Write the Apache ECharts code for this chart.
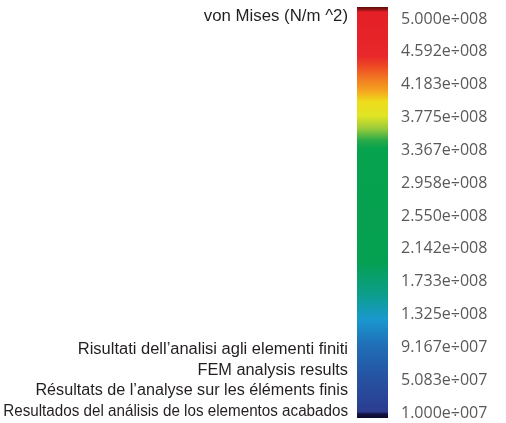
<!DOCTYPE html>
<html>
<head>
<meta charset="utf-8">
<script src="https://cdn.jsdelivr.net/npm/echarts@6/dist/echarts.min.js"></script>
<style>
  html, body { margin: 0; padding: 0; background: #fff; }
  #chart { width: 506px; height: 423px; }
</style>
</head>
<body>
<div id="chart"></div>
<script>
// colour scale values (N/m^2)
const tickValues = [1.000e7, 5.083e7, 9.167e7, 1.325e8, 1.733e8, 2.142e8, 2.550e8,
                    2.958e8, 3.367e8, 3.775e8, 4.183e8, 4.592e8, 5.000e8];
const tickLabels = ['1.000e÷007', '5.083e÷007', '9.167e÷007', '1.325e÷008', '1.733e÷008',
                    '2.142e÷008', '2.550e÷008', '2.958e÷008', '3.367e÷008', '3.775e÷008',
                    '4.183e÷008', '4.592e÷008', '5.000e÷008'];
const scaleMin = 3.78e6;   // bar runs a bit past the first/last tick
const scaleMax = 5.149e8;
const quantity = ['von Mises'];
const titleText = 'von Mises (N/m ^2)';
const captionLines = [
    'Risultati dell\u2019analisi agli elementi finiti',
    'FEM analysis results',
    'Résultats de l\u2019analyse sur les éléments finis',
    'Resultados del análisis de los elementos acabados'
];
const captionStretch = [1.03, 1.02, 1.01, 0.95];   // reference face is a condensed one

const chart = echarts.init(document.getElementById('chart'));

const textFont = '16px "Liberation Sans", Arial, sans-serif';

const graphics = [{
    type: 'text', x: 348, y: 17, scaleX: 1.05,
    style: { text: titleText, font: textFont, fill: '#231f20', align: 'right', verticalAlign: 'middle' }
}];
captionLines.forEach(function (line, i) {
    graphics.push({
        type: 'text', x: 348, y: 350 + i * 20.5,
        scaleX: captionStretch[i],
        style: { text: line, font: textFont, fill: '#231f20', align: 'right', verticalAlign: 'middle' }
    });
});

const option = {
    backgroundColor: '#fff',
    animation: false,
    grid: { left: 357, right: 118, top: 7, bottom: 5 },
    xAxis: {
        type: 'category',
        data: quantity,
        show: false
    },
    yAxis: {
        type: 'value',
        position: 'right',
        min: scaleMin,
        max: scaleMax,
        splitLine: { show: false },
        axisLine: { show: false },
        axisTick: { show: false },
        axisLabel: {
            customValues: tickValues,
            margin: 13,
            color: '#595959',
            fontFamily: '"Open Sans", sans-serif',
            fontSize: 16,
            formatter: function (v) {
                const i = tickValues.indexOf(v);
                return i >= 0 ? tickLabels[i] : '';
            }
        }
    },
    graphic: graphics,
    series: [
        {
            // base below the scale, not shown
            type: 'bar',
            stack: 'scale',
            data: [scaleMin],
            barWidth: '100%',
            itemStyle: { color: 'transparent' },
            silent: true
        },
        {
            type: 'bar',
            stack: 'scale',
            data: [scaleMax - scaleMin],
            barWidth: '100%',
            itemStyle: {
                color: new echarts.graphic.LinearGradient(0, 0, 0, 1, [
                    { offset: 0, color: '#5a0c0c' },
                    { offset: 0.006, color: '#8e1414' },
                    { offset: 0.012, color: '#e41f26' },
                    { offset: 0.12, color: '#e8282a' },
                    { offset: 0.145, color: '#ee4a24' },
                    { offset: 0.175, color: '#f27a22' },
                    { offset: 0.205, color: '#f4a61f' },
                    { offset: 0.23, color: '#eedc1c' },
                    { offset: 0.265, color: '#e0e424' },
                    { offset: 0.295, color: '#9ccc3a' },
                    { offset: 0.325, color: '#27aa48' },
                    { offset: 0.345, color: '#07a24e' },
                    { offset: 0.62, color: '#06a052' },
                    { offset: 0.7, color: '#0c9e8c' },
                    { offset: 0.76, color: '#1a98cf' },
                    { offset: 0.82, color: '#1f70b8' },
                    { offset: 0.9, color: '#2553a2' },
                    { offset: 0.985, color: '#2c3c90' },
                    { offset: 0.99, color: '#141444' },
                    { offset: 1, color: '#0a0a2a' }
                ])
            }
        }
    ]
};

chart.setOption(option);
window.addEventListener('resize', function () { chart.resize(); });
</script>
</body>
</html>
